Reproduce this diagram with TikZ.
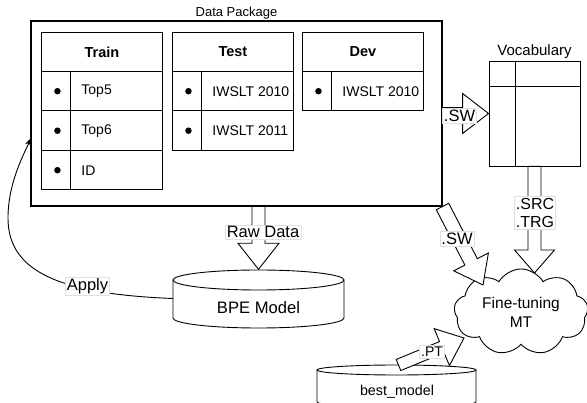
\documentclass[tikz,border=0pt]{standalone}
\usepackage{fontspec}
\setmainfont{Liberation Sans}
\usetikzlibrary{shapes.symbols,calc,arrows.meta}

\newcommand\blockarrow[5]{% #1 from, #2 to, #3 shaft half width, #4 head half width, #5 head length
  \path ($(#2)!#5!(#1)$) coordinate (bac);
  \draw[barrow] ($(#1)!#3!90:(#2)$) -- ($(bac)!#3!-90:(#1)$) -- ($(bac)!#4!-90:(#1)$) -- (#2)
     -- ($(bac)!#4!90:(#1)$) -- ($(bac)!#3!90:(#1)$) -- ($(#1)!#3!-90:(#2)$) -- cycle;
}
\newcommand\drawcyl[5]{% cx, top centre y, bottom centre y, rx, ry
  \filldraw[cylline] (#1-#4,#2) -- (#1-#4,#3) arc[start angle=180, end angle=360, x radius=#4pt, y radius=#5pt] -- (#1+#4,#2) -- cycle;
  \filldraw[cylline] (#1,#2) ellipse[x radius=#4pt, y radius=#5pt];
}

\tikzset{
  box/.style={draw, line width=1.05pt, rectangle, inner sep=0pt},
  hdr/.style={draw, line width=0.9pt, minimum width=121pt, minimum height=39pt, inner sep=0pt, anchor=north west, font=\fontsize{14.5}{17}\selectfont\bfseries},
  bcell/.style={draw, line width=0.9pt, minimum width=29pt, minimum height=39.5pt, inner sep=0pt, anchor=north west},
  tcell/.style={draw, line width=0.9pt, minimum width=92pt, minimum height=39.5pt, inner xsep=11pt, inner ysep=0pt, anchor=north west, font=\fontsize{14}{17}\selectfont},
  dot/.style={circle, fill=black, inner sep=0pt, minimum size=6.5pt},
  lbl/.style={fill=white, draw=black!12, line width=0.4pt, inner sep=1.5pt, font=\fontsize{16.5}{18}\selectfont},
  barrow/.style={draw=black, fill=white, line width=0.9pt, line join=miter},
  cylline/.style={draw=black, fill=white, line width=0.9pt},
  plain/.style={inner sep=0pt},
}

\begin{document}
\begin{tikzpicture}[x=1pt,y=-1pt]
\useasboundingbox (0,0) rectangle (587,403);

% data package
\node[box, minimum width=411pt, minimum height=185pt,
  label={[font=\fontsize{13}{15}\selectfont, label distance=-2pt]above:Data Package}] (pkg) at (236.5,113.5) {};

% Train table
\node[hdr] (trh) at (41,32) {Train};
\node[bcell] (trb1) at (41,71) {};
\node[bcell] (trb2) at (41,110.5) {};
\node[bcell] (trb3) at (41,150) {};
\node[tcell] (trt1) at (70,71) {\makebox[70pt][l]{Top5}};
\node[tcell] (trt2) at (70,110.5) {\makebox[70pt][l]{Top6}};
\node[tcell] (trt3) at (70,150) {\makebox[70pt][l]{ID}};
\node[dot, xshift=1.5pt] (trd1) at (trb1) {};
\node[dot, xshift=1.5pt] (trd2) at (trb2) {};
\node[dot, xshift=1.5pt] (trd3) at (trb3) {};

% Test table
\node[hdr] (teh) at (172,32) {Test};
\node[bcell] (teb1) at (172,71) {};
\node[bcell] (teb2) at (172,110.5) {};
\node[tcell] (tet1) at (201,71) {\makebox[70pt][l]{IWSLT 2010}};
\node[tcell] (tet2) at (201,110.5) {\makebox[70pt][l]{IWSLT 2011}};
\node[dot, xshift=1.5pt] (ted1) at (teb1) {};
\node[dot, xshift=1.5pt] (ted2) at (teb2) {};

% Dev table
\node[hdr] (dvh) at (302,32) {Dev};
\node[bcell] (dvb1) at (302,71) {};
\node[tcell] (dvt1) at (331,71) {\makebox[70pt][l]{IWSLT 2010}};
\node[dot, xshift=1.5pt] (dvd1) at (dvb1) {};

% Vocabulary
\node[draw, line width=0.9pt, minimum width=91pt, minimum height=105pt, inner sep=0pt,
  label={[font=\fontsize{15}{17}\selectfont, label distance=-1.5pt]above:Vocabulary}] (voc) at (534.5,113.5) {};
\draw[line width=0.9pt] ([xshift=27pt]voc.north west) -- ([xshift=27pt]voc.south west);
\draw[line width=0.9pt] ([yshift=-26pt]voc.north west) -- ([yshift=-26pt]voc.north east);

% BPE model cylinder
\node[minimum width=171pt, minimum height=58pt, inner sep=0pt] (bpe) at (258.5,298.5) {};
\drawcyl{258.5}{280}{318}{85.5}{10}
\node[plain, font=\fontsize{16.6}{19}\selectfont] (bpet) at (258.5,308) {BPE Model};

% best_model cylinder
\node[minimum width=159pt, minimum height=40pt, inner sep=0pt] (best) at (396.5,385) {};
\drawcyl{396.5}{370}{402}{79.5}{5}
\node[plain, font=\fontsize{14.3}{17}\selectfont] (bestt) at (397,392) {best\_model};

% Cloud
\node[cloud, draw, line width=0.9pt, fill=white, cloud puffs=9, cloud puff arc=120, aspect=1.6,
  minimum width=134pt, minimum height=86pt, inner sep=0pt, align=center,
  font=\fontsize{15.5}{19}\selectfont] (mt) at (521,312) {Fine-tuning\\MT};

% coordinates
\coordinate (raws) at (pkg.south -| bpe.north);
\coordinate (srctip) at (534.5,273);
\coordinate (swtip) at (483,285);
\coordinate (pts) at (398.5,365);
\coordinate (pttip) at (464,338);
\coordinate (applyend) at (31,138);

% block arrows
\blockarrow{pkg.east}{voc.west}{6pt}{20pt}{26pt}
\blockarrow{raws}{bpe.north}{6.5pt}{20.5pt}{26pt}
\blockarrow{voc.south}{srctip}{6.5pt}{20pt}{23pt}
\blockarrow{pkg.south east}{swtip}{7pt}{19.5pt}{26pt}
\blockarrow{pts}{pttip}{6pt}{20pt}{24pt}

% Apply connector
\draw[line width=0.9pt, -{Stealth[length=8pt,width=6pt]}] (bpe.west) .. controls (60,294) and (8,272) .. (8,218)
   .. controls (8,182) and (25,152) .. (applyend);

% labels
\node[lbl] (lsw1) at (459.5,116) {.SW};
\node[lbl] (lraw) at (263,232) {Raw Data};
\node[lbl, align=center, font=\fontsize{16}{18.5}\selectfont] (lsrc) at (535,213) {.SRC\\.TRG};
\node[lbl] (lsw2) at (457,239) {.SW};
\node[lbl, font=\fontsize{14}{16}\selectfont] (lpt) at (432,352) {.PT};
\node[lbl] (lapply) at (87.5,286) {Apply};
\end{tikzpicture}
\end{document}
